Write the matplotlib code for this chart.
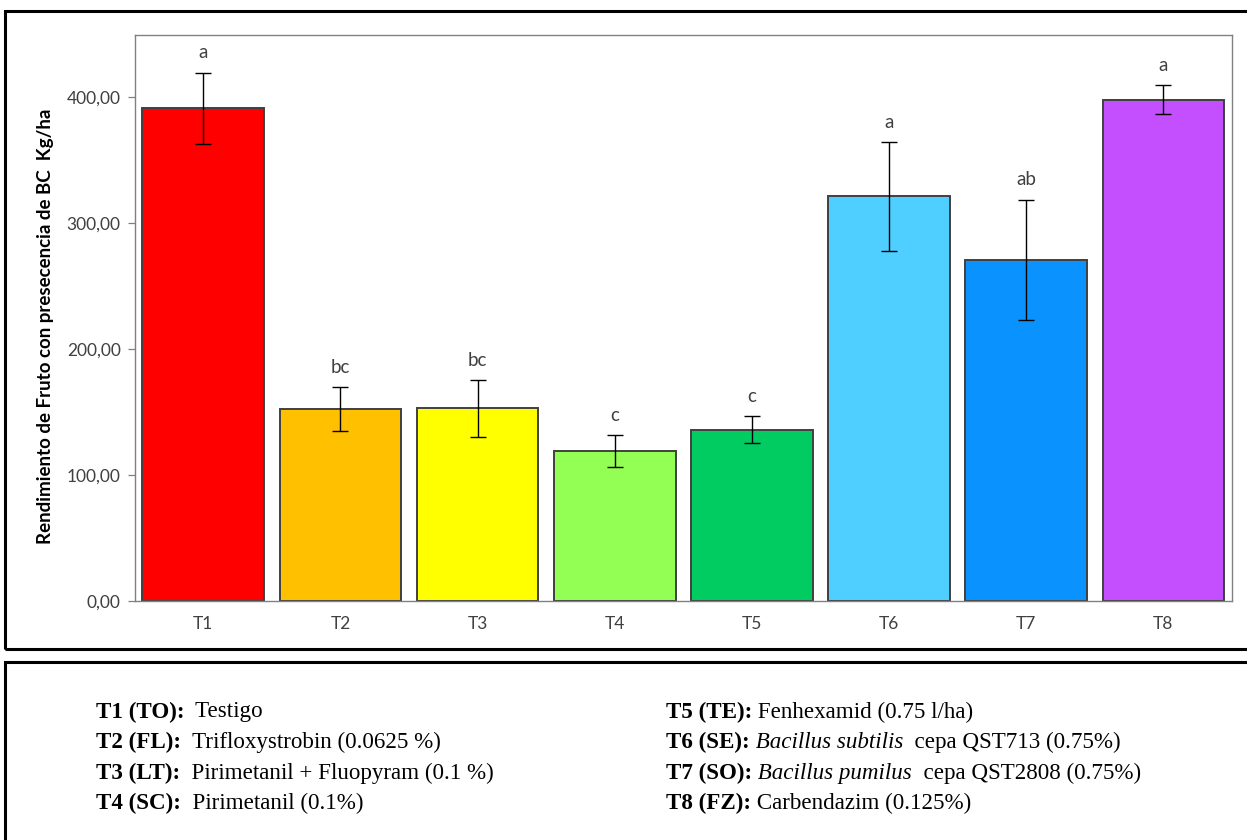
import matplotlib

matplotlib.use("Agg")
import matplotlib.pyplot as plt
from matplotlib.patches import Rectangle

W, H = 1247, 840

# data
treatments = ["T1", "T2", "T3", "T4", "T5", "T6", "T7", "T8"]
yield_kg_ha = [391.3, 152.5, 153.0, 119.4, 136.0, 321.4, 270.9, 398.0]
error_kg_ha = [28.5, 17.5, 22.5, 12.7, 10.8, 43.0, 48.0, 11.5]
letters = ["a", "bc", "bc", "c", "c", "a", "ab", "a"]
bar_colors = ["#FF0000", "#FFC000", "#FFFF00", "#93FF55",
              "#00CC62", "#4FCFFF", "#0A93FF", "#C34FFF"]
yticks = [0, 100, 200, 300, 400]

legend_left = [
    ("T1 (TO):", "  Testigo", None),
    ("T2 (FL):", "  Trifloxystrobin (0.0625 %)", None),
    ("T3 (LT):", "  Pirimetanil + Fluopyram (0.1 %)", None),
    ("T4 (SC):", "  Pirimetanil (0.1%)", None),
]
legend_right = [
    ("T5 (TE):", " Fenhexamid (0.75 l/ha)", None),
    ("T6 (SE):", " Bacillus subtilis", "  cepa QST713 (0.75%)"),
    ("T7 (SO):", " Bacillus pumilus", "  cepa QST2808 (0.75%)"),
    ("T8 (FZ):", " Carbendazim (0.125%)", None),
]

LEG_FS = 16.6

fig = plt.figure(figsize=(W / 100, H / 100), dpi=100)
fig.patch.set_facecolor("white")

# outer frames (chart box and legend box, both run off the right edge)
fig.add_artist(Rectangle((5 / W, 1 - 649 / H), 1.2, (649 - 11) / H,
                         transform=fig.transFigure, fill=False,
                         edgecolor="black", linewidth=2.2))
fig.add_artist(Rectangle((5 / W, -0.2), 1.2, 0.2 + (840 - 662) / H,
                         transform=fig.transFigure, fill=False,
                         edgecolor="black", linewidth=2.2))

ax = fig.add_axes([134.7 / W, 1 - 601 / H, (1232 - 134.7) / W, (601 - 34.5) / H])
x = list(range(len(treatments)))
ax.bar(x, yield_kg_ha, width=0.887, color=bar_colors,
       edgecolor="#404040", linewidth=1.4, zorder=2)
ax.errorbar(x, yield_kg_ha, yerr=error_kg_ha, fmt="none", ecolor="black",
            elinewidth=1.0, capsize=6, capthick=1.0, zorder=3)

for xi, v, e, lab in zip(x, yield_kg_ha, error_kg_ha, letters):
    ax.annotate(lab, (xi, v + e), xytext=(0, 8), textcoords="offset points",
                ha="center", va="bottom", fontsize=13.5, family="Lato",
                color="#404040")

ax.set_xlim(-0.5, len(treatments) - 0.5)
ax.set_ylim(0, 450)
ax.set_yticks(yticks)
ax.set_yticklabels([f"{t:.2f}".replace(".", ",") for t in yticks],
                   fontsize=12.5, family="Lato", color="#404040")
ax.set_xticks(x)
ax.set_xticklabels(treatments, fontsize=12.5, family="Lato", color="#404040")
ax.tick_params(axis="x", length=0, pad=11)
ax.tick_params(axis="y", length=5, width=0.9, color="#808080", pad=5)
for spine in ax.spines.values():
    spine.set_color("#808080")
    spine.set_linewidth(1.0)

fig.text(46 / W, 1 - 326 / H, "Rendimiento de Fruto con presecencia de BC  Kg/ha",
         rotation=90, ha="center", va="center", fontsize=13.5,
         family="Lato", fontweight="bold", color="black")

# legend text block, Times-like serif
row_y = [712, 742, 773, 803]


def draw_entry(x_px, y_px, bold, normal, extra):
    y = 1 - y_px / H
    t = fig.text(x_px / W, y, bold, fontsize=LEG_FS, family="Liberation Serif",
                 fontweight="bold", va="center", ha="left")
    style = "italic" if extra is not None else "normal"
    t2 = fig.text(0, 0, normal, fontsize=LEG_FS, family="Liberation Serif",
                  style=style, va="center", ha="left")
    fig.canvas.draw()
    bb = t.get_window_extent()
    t2.set_position((bb.x1 / fig.bbox.width, y))
    if extra is not None:
        bb2 = t2.get_window_extent()
        fig.text(bb2.x1 / fig.bbox.width, y, extra, fontsize=LEG_FS,
                 family="Liberation Serif", va="center", ha="left")


for (b, n, e), yy in zip(legend_left, row_y):
    draw_entry(96, yy, b, n, e)
for (b, n, e), yy in zip(legend_right, row_y):
    draw_entry(666, yy, b, n, e)

fig.savefig("out.png", dpi=100, facecolor="white")
